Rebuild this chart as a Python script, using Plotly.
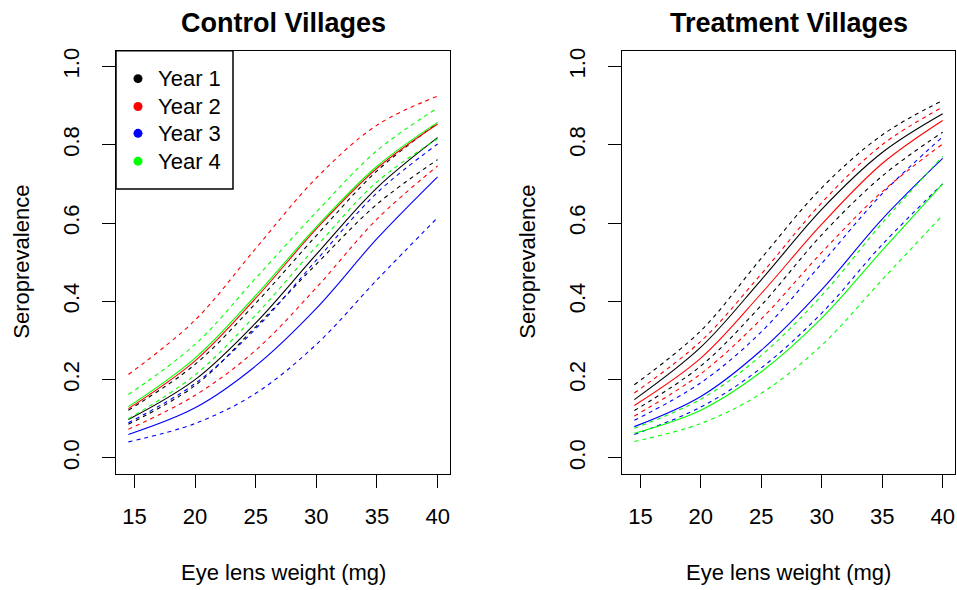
import plotly.graph_objects as go

# ---------------- data ----------------
lens_weight = [14.5, 20, 25, 30, 35, 40]
year_labels = ["Year 1", "Year 2", "Year 3", "Year 4"]
year_colors = ["#000000", "#FF0000", "#0000FF", "#00FF00"]

# Control villages: fitted, upper CI, lower CI
ctrl_y1 = [0.098, 0.200, 0.345, 0.520, 0.690, 0.818]
ctrl_y1_hi = [0.122, 0.239, 0.395, 0.568, 0.733, 0.855]
ctrl_y1_lo = [0.086, 0.185, 0.335, 0.495, 0.648, 0.762]
ctrl_y2 = [0.126, 0.248, 0.408, 0.585, 0.740, 0.853]
ctrl_y2_hi = [0.213, 0.352, 0.535, 0.715, 0.850, 0.924]
ctrl_y2_lo = [0.073, 0.160, 0.275, 0.435, 0.610, 0.746]
ctrl_y3 = [0.060, 0.128, 0.235, 0.382, 0.560, 0.718]
ctrl_y3_hi = [0.090, 0.190, 0.330, 0.505, 0.677, 0.802]
ctrl_y3_lo = [0.041, 0.088, 0.165, 0.290, 0.455, 0.614]
ctrl_y4 = [0.131, 0.255, 0.415, 0.590, 0.745, 0.857]
ctrl_y4_hi = [0.162, 0.290, 0.459, 0.628, 0.785, 0.894]
ctrl_y4_lo = [0.100, 0.212, 0.365, 0.540, 0.705, 0.815]

# Treatment villages: fitted, upper CI, lower CI
trt_y1 = [0.149, 0.283, 0.455, 0.635, 0.780, 0.879]
trt_y1_hi = [0.187, 0.325, 0.510, 0.690, 0.825, 0.913]
trt_y1_lo = [0.121, 0.235, 0.390, 0.570, 0.720, 0.832]
trt_y2 = [0.134, 0.255, 0.420, 0.597, 0.752, 0.862]
trt_y2_hi = [0.166, 0.298, 0.470, 0.652, 0.800, 0.896]
trt_y2_lo = [0.107, 0.215, 0.355, 0.525, 0.680, 0.802]
trt_y3 = [0.080, 0.157, 0.275, 0.430, 0.610, 0.765]
trt_y3_hi = [0.096, 0.192, 0.322, 0.497, 0.675, 0.820]
trt_y3_lo = [0.060, 0.130, 0.230, 0.370, 0.545, 0.700]
trt_y4 = [0.063, 0.122, 0.220, 0.357, 0.530, 0.700]
trt_y4_hi = [0.076, 0.150, 0.262, 0.415, 0.600, 0.770]
trt_y4_lo = [0.042, 0.088, 0.165, 0.288, 0.455, 0.620]

x_ticks = [15, 20, 25, 30, 35, 40]
y_ticks = [0.0, 0.2, 0.4, 0.6, 0.8, 1.0]
y_tick_text = ["0.0", "0.2", "0.4", "0.6", "0.8", "1.0"]

panels = [
    ("Control Villages", "x", "y",
     [(ctrl_y1, ctrl_y1_hi, ctrl_y1_lo), (ctrl_y2, ctrl_y2_hi, ctrl_y2_lo),
      (ctrl_y3, ctrl_y3_hi, ctrl_y3_lo), (ctrl_y4, ctrl_y4_hi, ctrl_y4_lo)]),
    ("Treatment Villages", "x2", "y2",
     [(trt_y1, trt_y1_hi, trt_y1_lo), (trt_y2, trt_y2_hi, trt_y2_lo),
      (trt_y3, trt_y3_hi, trt_y3_lo), (trt_y4, trt_y4_hi, trt_y4_lo)]),
]

# ---------------- layout geometry ----------------
W, H = 957, 590
FONT = "Liberation Sans, Arial, sans-serif"


def px(xp):
    return xp / W


def py(yp):
    return 1 - yp / H


boxes = [(116, 450), (622, 955)]
box_top, box_bottom = 48, 473

fig = go.Figure()

for (title, xa, ya, series) in panels:
    for i, (fit, hi, lo) in enumerate(series):
        col = year_colors[i]
        for vals, dash in ((fit, "solid"), (hi, "4px,4px"), (lo, "4px,4px")):
            fig.add_trace(go.Scatter(
                x=lens_weight, y=vals, xaxis=xa, yaxis=ya, mode="lines",
                line=dict(color=col, width=1.1, dash=dash, shape="spline",
                          smoothing=1.0),
                showlegend=False, hoverinfo="skip"))

axis_common = dict(showgrid=False, zeroline=False, showline=True, mirror=True,
                   linecolor="#000000", linewidth=1, ticks="outside", ticklen=13,
                   tickcolor="#000000", tickwidth=1,
                   tickfont=dict(family=FONT, size=22, color="#000000"))

layout = dict(width=W, height=H, margin=dict(l=0, r=0, t=0, b=0),
              plot_bgcolor="white", paper_bgcolor="white", showlegend=False)

for k, (x0, x1) in enumerate(boxes):
    sx = "" if k == 0 else "2"
    layout["xaxis" + sx] = dict(axis_common, domain=[px(x0), px(x1)],
                                range=[13.48, 41.02], tickvals=x_ticks,
                                anchor="y" + sx, ticklabelstandoff=10)
    layout["yaxis" + sx] = dict(axis_common, domain=[py(box_bottom), py(box_top)],
                                range=[-0.04, 1.04], tickvals=y_ticks,
                                ticktext=y_tick_text, tickangle=-90,
                                anchor="x" + sx, ticklabelstandoff=14)

fig.update_layout(**layout)

annotations = []
shapes = []
for k, (x0, x1) in enumerate(boxes):
    cx = (x0 + x1) / 2
    annotations.append(dict(text="<b>%s</b>" % panels[k][0], x=px(cx), y=py(20),
                            xref="paper", yref="paper", showarrow=False,
                            xanchor="center", yanchor="middle",
                            font=dict(family=FONT, size=27, color="#000000")))
    annotations.append(dict(text="Eye lens weight (mg)", x=px(cx), y=py(572),
                            xref="paper", yref="paper", showarrow=False,
                            xanchor="center", yanchor="middle",
                            font=dict(family=FONT, size=22, color="#000000")))
    annotations.append(dict(text="Seroprevalence", x=px(x0 - 94), y=py(260),
                            xref="paper", yref="paper", showarrow=False,
                            textangle=-90, xanchor="center", yanchor="middle",
                            font=dict(family=FONT, size=22, color="#000000")))

# legend box (left panel, top-left)
lx0, lx1, ly0, ly1 = 116, 233, 48, 187
shapes.append(dict(type="rect", xref="paper", yref="paper",
                   x0=px(lx0), x1=px(lx1), y0=py(ly1), y1=py(ly0),
                   line=dict(color="#000000", width=1.5), fillcolor="white"))
row_y = [76, 104, 131, 159]
for i, lab in enumerate(year_labels):
    cy = row_y[i]
    r = 4.5
    shapes.append(dict(type="circle", xref="paper", yref="paper",
                       x0=px(138 - r), x1=px(138 + r), y0=py(cy + r), y1=py(cy - r),
                       line=dict(color=year_colors[i], width=0),
                       fillcolor=year_colors[i]))
    annotations.append(dict(text=lab, x=px(156), y=py(cy), xref="paper", yref="paper",
                            showarrow=False, xanchor="left", yanchor="middle",
                            font=dict(family=FONT, size=22, color="#000000")))

fig.update_layout(annotations=annotations, shapes=shapes)
fig.write_html("out.html")
